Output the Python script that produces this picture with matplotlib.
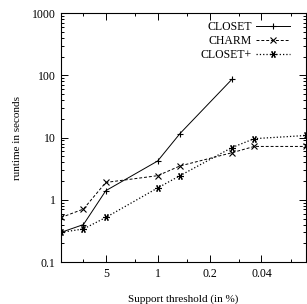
import matplotlib
matplotlib.use("Agg")
import matplotlib.pyplot as plt
from matplotlib.ticker import FixedLocator, NullFormatter, LogLocator

plt.rcParams['font.family'] = ['Liberation Serif', 'DejaVu Serif']
plt.rcParams['mathtext.fontset'] = 'stix'

support = [20, 10, 5, 1, 0.5, 0.1, 0.05, 0.01]
closet_x = [20, 10, 5, 1, 0.5, 0.1]
closet = [0.30, 0.40, 1.40, 4.2, 11.6, 86]
charm = [0.52, 0.71, 1.9, 2.44, 3.5, 5.7, 7.2, 7.2]
closetp = [0.30, 0.34, 0.52, 1.55, 2.44, 6.9, 9.6, 10.8]

xticks = [5, 1, 0.2, 0.04]
xtick_labels = ["5", "1", "0.2", "0.04"]
xminor = [10, 2, 0.4, 0.08, 0.016]
yticks = [0.1, 1, 10, 100, 1000]
ytick_labels = ["0.1", "1", "10", "100", "1000"]

fig = plt.figure(figsize=(3.07, 3.04), dpi=100)
ax = fig.add_axes([0.199, 0.138, 0.798, 0.819])

lw = 0.7
ax.plot(closet_x, closet, '-', color='black', lw=lw, marker='+', ms=5, mew=0.8, label='CLOSET')
ax.plot(support, charm, '--', color='black', lw=lw, marker='x', ms=4, mew=0.8,
        dashes=(3, 2), label='CHARM')
ax.plot(support, closetp, ':', color='black', lw=lw + 0.2, marker=(6, 2, 90), ms=5, mew=0.8,
        label='CLOSET+')

ax.set_xscale('log')
ax.set_yscale('log')
ax.set_xlim(20, 0.01)
ax.set_ylim(0.1, 1000)

ax.xaxis.set_major_locator(FixedLocator(xticks))
ax.set_xticklabels(xtick_labels)
ax.xaxis.set_minor_locator(FixedLocator(xminor))
ax.xaxis.set_minor_formatter(NullFormatter())
ax.yaxis.set_major_locator(FixedLocator(yticks))
ax.set_yticklabels(ytick_labels)
ax.yaxis.set_minor_locator(LogLocator(base=10, subs=range(2, 10)))
ax.yaxis.set_minor_formatter(NullFormatter())

ax.tick_params(which='both', direction='in', top=True, right=True, labelsize=8.5, width=0.7, pad=4)
ax.tick_params(which='major', length=5)
ax.tick_params(which='minor', length=2.5)
for s in ax.spines.values():
    s.set_linewidth(0.8)

ax.set_xlabel('Support threshold (in %)', fontsize=8, labelpad=11)
ax.set_ylabel('runtime in seconds', fontsize=8, labelpad=7)

ax.legend(loc='upper right', frameon=False, markerfirst=False, fontsize=8.5,
          handlelength=2.9, handletextpad=0.4, labelspacing=0.15,
          borderaxespad=0.3, bbox_to_anchor=(0.97, 1.0))

fig.savefig('out.png', dpi=100)
